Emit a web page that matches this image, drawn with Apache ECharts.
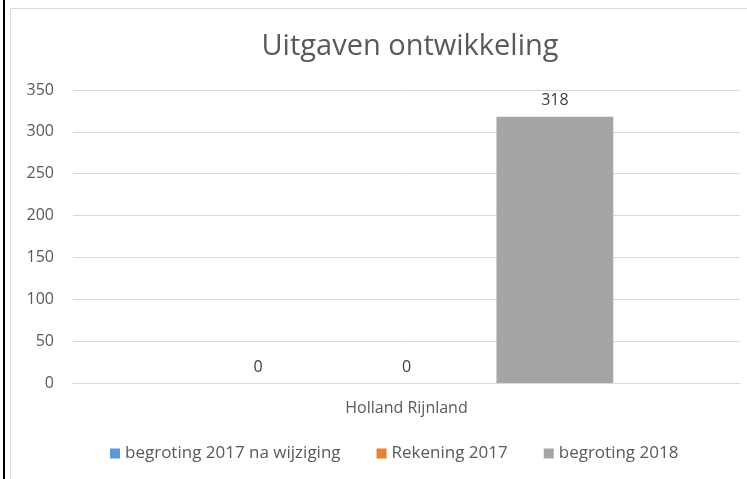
<!DOCTYPE html>
<html>
<head>
<meta charset="utf-8">
<title>Uitgaven ontwikkeling</title>
<script src="https://cdn.jsdelivr.net/npm/echarts@6/dist/echarts.min.js"></script>
<style>
html,body{margin:0;padding:0;background:#fff;}
#container{width:747px;height:479px;}
</style>
</head>
<body>
<div id="container"></div>
<script type="text/javascript">
// data
var categories = ['Holland Rijnland'];
var seriesNames = ['begroting 2017 na wijziging', 'Rekening 2017', 'begroting 2018'];
var begroting2017 = [0];
var rekening2017 = [0];
var begroting2018 = [318];
var colors = ['#5b9bd5', '#ed7d31', '#a5a5a5'];

var myChart = echarts.init(document.getElementById('container'));
var font = 'Open Sans, Liberation Sans, sans-serif';

function makeSeries(name, data, color) {
    return {
        name: name,
        type: 'bar',
        data: data,
        barGap: '27%',
        barCategoryGap: '38%',
        itemStyle: { color: color },
        label: {
            show: true,
            position: 'top',
            distance: 8,
            color: '#404040',
            fontSize: 16,
            fontFamily: font
        }
    };
}

var option = {
    animation: false,
    title: {
        text: 'Uitgaven ontwikkeling',
        left: 405,
        textAlign: 'center',
        top: 27,
        textStyle: { color: '#595959', fontSize: 29, fontWeight: 'normal', fontFamily: font }
    },
    legend: {
        data: seriesNames,
        bottom: 12,
        left: 105,
        itemWidth: 10,
        itemHeight: 10,
        itemGap: 36,
        icon: 'rect',
        textStyle: { color: '#595959', fontSize: 17, fontFamily: font }
    },
    grid: { left: 73, right: 7, top: 90, bottom: 96 },
    xAxis: {
        type: 'category',
        data: categories,
        axisLine: { lineStyle: { color: '#d9d9d9' } },
        axisTick: { show: false },
        axisLabel: { color: '#595959', fontSize: 16, margin: 17, fontFamily: font }
    },
    yAxis: {
        type: 'value',
        min: 0,
        max: 350,
        interval: 50,
        axisLine: { show: false },
        axisTick: { show: false },
        axisLabel: { color: '#595959', fontSize: 16, margin: 19, fontFamily: font },
        splitLine: { lineStyle: { color: '#d9d9d9' } }
    },
    graphic: [
        { type: 'rect', shape: { x: 10.5, y: 8.5, width: 740, height: 480 }, style: { fill: null, stroke: '#d9d9d9', lineWidth: 1 }, z: -1 },
        { type: 'rect', shape: { x: 3, y: 0, width: 2, height: 479 }, style: { fill: '#000' } }
    ],
    series: [
        makeSeries(seriesNames[0], begroting2017, colors[0]),
        makeSeries(seriesNames[1], rekening2017, colors[1]),
        makeSeries(seriesNames[2], begroting2018, colors[2])
    ]
};
myChart.setOption(option);
</script>
</body>
</html>
